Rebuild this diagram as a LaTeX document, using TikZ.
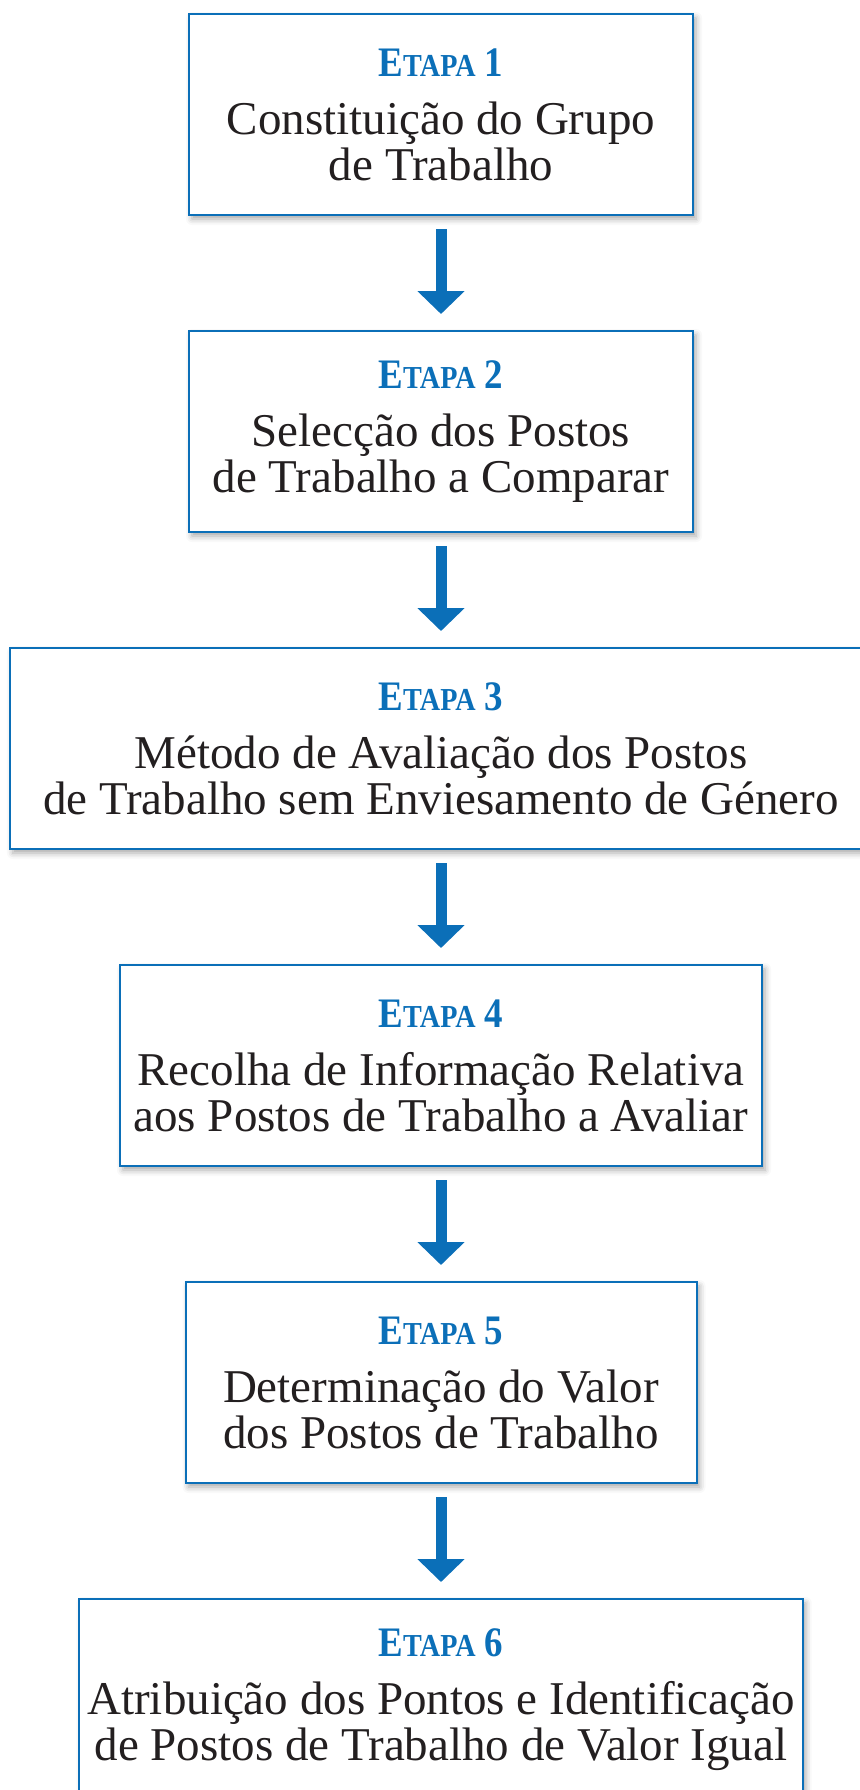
\documentclass[tikz,border=0pt]{standalone}
\usepackage{fontspec}
\setmainfont{Liberation Serif}
\usepackage{xcolor}
\usepackage{tikz}
\usetikzlibrary{arrows.meta,positioning,shadows.blur}
\definecolor{etapablue}{HTML}{0B6FB8}
\definecolor{etapatext}{HTML}{231F20}
\newcommand{\etapa}[1]{{\color{etapablue}\bfseries\scalebox{0.88}[1]{\fontsize{21}{23}\selectfont E\fontsize{16}{23}\selectfont TAPA\fontsize{21}{23}\selectfont\ #1}}}

\begin{document}
\begin{tikzpicture}[node distance=57pt,
  box/.style={draw=etapablue,line width=1pt,fill=white,minimum height=100.5pt,align=center,text=etapatext,font=\fontsize{23.5}{23}\selectfont,inner sep=4pt,blur shadow={shadow xshift=1.5pt,shadow yshift=-2pt,shadow blur radius=3pt,shadow opacity=35}},
  seta/.style={-{Triangle[width=23pt,length=11.5pt]},line width=5.5pt,etapablue,shorten <=6.5pt,shorten >=8pt}]
  \useasboundingbox (0,0) rectangle (429.5pt,-895pt);
  \node[box,minimum width=252pt] (e1) at (220.5pt,-57.25pt) {\etapa{1}\\[6pt]Constituição do Grupo\\de Trabalho};
  \node[box,minimum width=252pt,below=of e1] (e2) {\etapa{2}\\[6pt]Selecção dos Postos\\de Trabalho a Comparar};
  \node[box,minimum width=431pt,below=of e2] (e3) {\etapa{3}\\[6pt]Método de Avaliação dos Postos\\de Trabalho sem Enviesamento de Género};
  \node[box,minimum width=321pt,below=of e3] (e4) {\etapa{4}\\[6pt]Recolha de Informação Relativa\\aos Postos de Trabalho a Avaliar};
  \node[box,minimum width=255.5pt,below=of e4] (e5) {\etapa{5}\\[6pt]Determinação do Valor\\dos Postos de Trabalho};
  \node[box,minimum width=361.5pt,below=of e5] (e6) {\etapa{6}\\[6pt]Atribuição dos Pontos e Identificação\\de Postos de Trabalho de Valor Igual};
  \draw[seta] (e1) -- (e2);
  \draw[seta] (e2) -- (e3);
  \draw[seta] (e3) -- (e4);
  \draw[seta] (e4) -- (e5);
  \draw[seta] (e5) -- (e6);
\end{tikzpicture}
\end{document}
